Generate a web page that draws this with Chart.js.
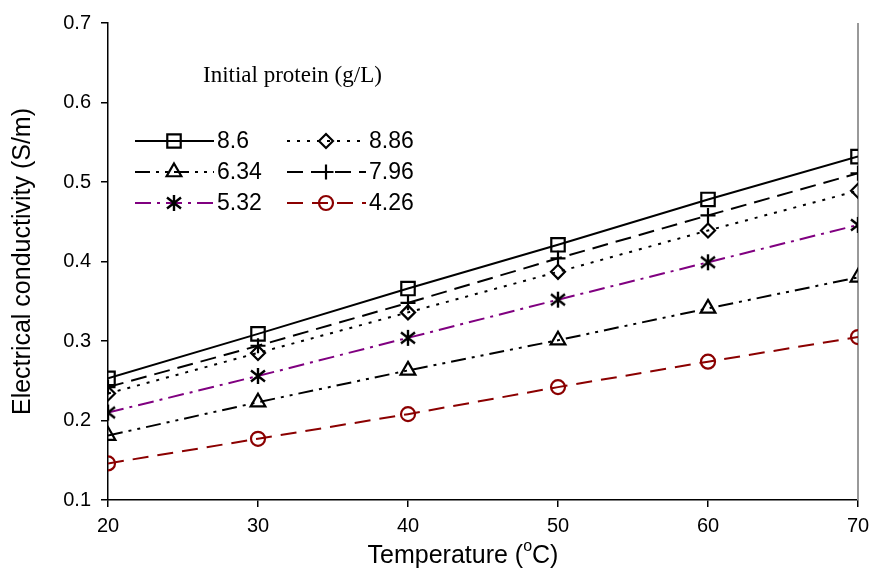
<!DOCTYPE html>
<html>
<head>
<meta charset="utf-8">
<script src="https://cdn.jsdelivr.net/npm/chart.js@4/dist/chart.umd.min.js"></script>
<style>
  html, body { margin: 0; padding: 0; background: #fff; }
  #wrap { width: 872px; height: 571px; }
</style>
</head>
<body>
<div id="wrap"><canvas id="ec_graph" width="872" height="571"></canvas></div>
<script>
// Temperature (x) and conductivity series
var temperature = [20, 30, 40, 50, 60, 70];
var protein_86   = [0.253, 0.309, 0.366, 0.421, 0.478, 0.532];
var protein_886  = [0.234, 0.285, 0.336, 0.387, 0.439, 0.489];
var protein_634  = [0.181, 0.223, 0.263, 0.301, 0.341, 0.380];
var protein_796  = [0.242, 0.294, 0.348, 0.404, 0.458, 0.511];
var protein_532  = [0.210, 0.256, 0.304, 0.352, 0.399, 0.446];
var protein_426  = [0.146, 0.177, 0.208, 0.242, 0.274, 0.305];
var seriesLabels = ['8.6', '8.86', '6.34', '7.96', '5.32', '4.26'];
var xTicks = [20, 30, 40, 50, 60, 70];
var yTicks = [0.1, 0.2, 0.3, 0.4, 0.5, 0.6, 0.7];

var sans = "'Liberation Sans', Arial, sans-serif";
var purple = '#800080';
var darkRed = '#8b0000';

// asterisk marker (6 arms) drawn on a small canvas
function makeAsterisk() {
    var c = document.createElement('canvas');
    c.width = 18; c.height = 18;
    var g = c.getContext('2d');
    g.strokeStyle = '#000';
    g.lineWidth = 2.4;
    g.beginPath();
    g.moveTo(9, 1); g.lineTo(9, 17);
    g.moveTo(2, 3.5); g.lineTo(16, 14.5);
    g.moveTo(16, 3.5); g.lineTo(2, 14.5);
    g.stroke();
    return c;
}
var asterisk = makeAsterisk();

function points(values) {
    return values.map(function (v, i) { return { x: temperature[i], y: v }; });
}

function series(label, values, color, dash, style, radius) {
    return {
        label: label,
        data: points(values),
        borderColor: color,
        borderWidth: 2,
        borderDash: dash,
        pointStyle: style,
        pointRadius: radius,
        pointBorderColor: color,
        pointBackgroundColor: 'rgba(0,0,0,0)',
        pointBorderWidth: 2.2,
        fill: false,
        tension: 0
    };
}

var datasets = [
    series(seriesLabels[0], protein_86, '#000', [], 'rect', 9.5),
    series(seriesLabels[1], protein_886, '#000', [3, 7], 'rectRot', 7),
    series(seriesLabels[2], protein_634, '#000', [15, 6, 3, 6, 3, 6], 'triangle', 8.5),
    series(seriesLabels[3], protein_796, '#000', [16, 8], 'cross', 7.5),
    series(seriesLabels[4], protein_532, purple, [16, 6, 3, 6], asterisk, 9),
    series(seriesLabels[5], protein_426, darkRed, [16, 9], 'circle', 7)
];

// frame line on the right, drawn under the data
var frame = {
    id: 'frame',
    beforeDatasetsDraw: function (chart) {
        var ctx = chart.ctx, a = chart.chartArea;
        ctx.save();
        ctx.strokeStyle = '#999';
        ctx.lineWidth = 2;
        ctx.beginPath();
        ctx.moveTo(a.right, a.top);
        ctx.lineTo(a.right, a.bottom);
        ctx.stroke();
        ctx.restore();
    }
};

// legend in two columns plus axis titles
var overlay = {
    id: 'overlay',
    afterDraw: function (chart) {
        var ctx = chart.ctx, a = chart.chartArea;
        ctx.save();

        ctx.fillStyle = '#000';
        ctx.font = "23px 'Liberation Serif', 'Times New Roman', serif";
        ctx.textBaseline = 'middle';
        ctx.textAlign = 'left';
        ctx.fillText('Initial protein (g/L)', 203, 76);

        chart.data.datasets.forEach(function (ds, i) {
            var col = i % 2, row = Math.floor(i / 2);
            var x0 = 135 + col * 152;
            var y = 141 + row * 31;
            ctx.save();
            ctx.strokeStyle = ds.borderColor;
            ctx.lineWidth = ds.borderWidth;
            ctx.setLineDash(ds.borderDash);
            ctx.beginPath();
            ctx.moveTo(x0, y);
            ctx.lineTo(x0 + 79, y);
            ctx.stroke();
            ctx.setLineDash([]);
            ctx.fillStyle = 'rgba(0,0,0,0)';
            ctx.lineWidth = 2.2;
            Chart.helpers.drawPoint(ctx, {
                pointStyle: ds.pointStyle,
                radius: ds.pointRadius,
                rotation: 0,
                borderWidth: 2.2
            }, x0 + 39, y);
            ctx.restore();
            ctx.fillStyle = '#000';
            ctx.font = '23px ' + sans;
            ctx.textAlign = 'left';
            ctx.fillText(ds.label, x0 + 82, y + 1);
        });

        // y axis title
        ctx.save();
        ctx.translate(23, (a.top + a.bottom) / 2);
        ctx.rotate(-Math.PI / 2);
        ctx.font = '25px ' + sans;
        ctx.textAlign = 'center';
        ctx.fillText('Electrical conductivity (S/m)', 0, 0);
        ctx.restore();

        // x axis title with superscript o
        var big = '25px ' + sans, small = '16px ' + sans;
        var p1 = 'Temperature (', p2 = 'o', p3 = 'C)';
        ctx.font = big;
        var w1 = ctx.measureText(p1).width, w3 = ctx.measureText(p3).width;
        ctx.font = small;
        var w2 = ctx.measureText(p2).width;
        var total = w1 + w2 + w3;
        var xs = 463 - total / 2;
        var ty = 556;
        ctx.textAlign = 'left';
        ctx.font = big;
        ctx.fillText(p1, xs, ty);
        ctx.font = small;
        ctx.fillText(p2, xs + w1, ty - 9);
        ctx.font = big;
        ctx.fillText(p3, xs + w1 + w2, ty);

        ctx.restore();
    }
};

var canvas = document.getElementById('ec_graph').getContext('2d');
var ec_graph = new Chart(canvas, {
    type: 'line',
    data: { datasets: datasets },
    options: {
        responsive: false,
        animation: false,
        layout: { padding: { top: 23, right: 14, left: 0, bottom: 0 } },
        plugins: {
            legend: { display: false },
            tooltip: { enabled: false }
        },
        scales: {
            x: {
                type: 'linear',
                min: xTicks[0],
                max: xTicks[xTicks.length - 1],
                afterBuildTicks: function (scale) {
                    scale.ticks = xTicks.map(function (v) { return { value: v }; });
                },
                afterFit: function (scale) {
                    scale.height = 71;
                    scale.paddingLeft = 0;
                    scale.paddingRight = 0;
                },
                ticks: { color: '#000', font: { size: 20, family: sans }, padding: 7 },
                grid: { drawOnChartArea: false, drawTicks: true, tickLength: 7, color: '#000', lineWidth: 1.5 },
                border: { color: '#000', width: 1.5 }
            },
            y: {
                min: yTicks[0],
                max: yTicks[yTicks.length - 1],
                afterBuildTicks: function (scale) {
                    scale.ticks = yTicks.map(function (v) { return { value: v }; });
                },
                afterFit: function (scale) {
                    scale.width = 108;
                    scale.paddingTop = 0;
                    scale.paddingBottom = 0;
                },
                ticks: {
                    color: '#000',
                    font: { size: 20, family: sans },
                    padding: 10,
                    callback: function (v) { return v.toFixed(1); }
                },
                grid: { drawOnChartArea: false, drawTicks: true, tickLength: 7, color: '#000', lineWidth: 1.5 },
                border: { color: '#000', width: 1.5 }
            }
        }
    },
    plugins: [frame, overlay]
});
</script>
</body>
</html>
